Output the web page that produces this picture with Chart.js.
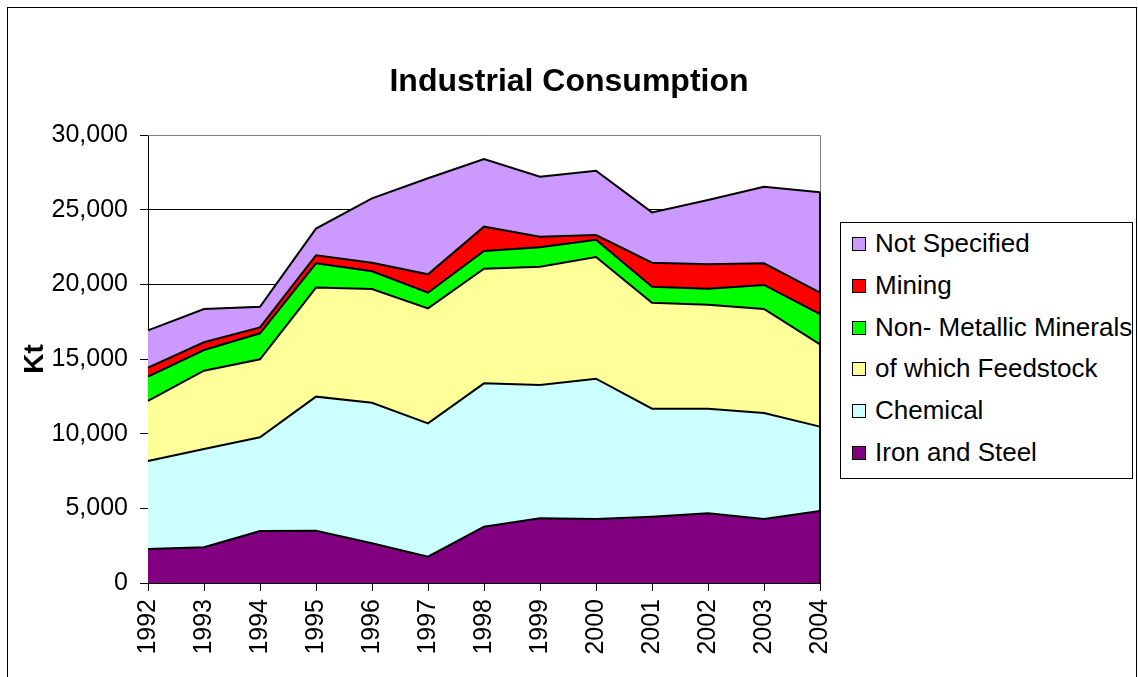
<!DOCTYPE html>
<html>
<head>
<meta charset="utf-8">
<title>Industrial Consumption</title>
<script src="https://cdn.jsdelivr.net/npm/chart.js@4/dist/chart.umd.min.js"></script>
<style>
    body { margin: 0; background: #fff; }
    #wrap { position: relative; width: 1138px; height: 677px; overflow: hidden; }
    #title {
        position: absolute; left: 0; top: 61px; width: 1138px; height: 38px; line-height: 38px;
        text-align: center; font-family: "Liberation Sans", Arial, sans-serif;
        font-size: 32px; font-weight: bold; color: #000;
    }
    #legend {
        position: absolute; left: 840px; top: 222px; width: 293px; height: 257px;
        box-sizing: border-box; border: 1px solid #000; background: #fff;
        font-family: "Liberation Sans", Arial, sans-serif; font-size: 26px; color: #000;
    }
    .item { height: 41.8px; line-height: 41.8px; white-space: nowrap; position: relative; padding-left: 34px; }
    .swatch {
        position: absolute; left: 11px; top: 14px; width: 14px; height: 14px;
        box-sizing: border-box; border: 1px solid #000;
    }
</style>
</head>
<body>
<div id="wrap">
    <canvas id="chart" width="1138" height="677"></canvas>
    <div id="title">Industrial Consumption</div>
    <div id="legend"></div>
</div>
<script>
// Data (Kt)
const years = ['1992', '1993', '1994', '1995', '1996', '1997', '1998', '1999', '2000', '2001', '2002', '2003', '2004'];
const ironSteel    = [2280, 2400, 3480, 3500, 2660, 1760, 3770, 4330, 4290, 4440, 4670, 4290, 4820];
const chemical     = [5890, 6570, 6280, 8980, 9410, 8930, 9600, 8930, 9390, 7230, 7000, 7090, 5650];
const feedstock    = [4020, 5250, 5220, 7300, 7620, 7700, 7680, 7920, 8150, 7100, 6970, 6970, 5510];
const nonMetallic  = [1630, 1380, 1740, 1630, 1180, 1050, 1180, 1300, 1160, 1070, 1070, 1610, 2030];
const mining       = [600, 520, 400, 540, 580, 1230, 1630, 710, 310, 1610, 1630, 1450, 1430];
const notSpecified = [2500, 2230, 1380, 1780, 4310, 6430, 4530, 4020, 4310, 3370, 4310, 5130, 6720];
const yTicks = [0, 5000, 10000, 15000, 20000, 25000, 30000];

Chart.defaults.font.family = '"Liberation Sans", Arial, sans-serif';
Chart.defaults.color = '#000';

const series = [
    { label: 'Iron and Steel', data: ironSteel, color: '#800080' },
    { label: 'Chemical', data: chemical, color: '#CCFFFF' },
    { label: 'of which Feedstock', data: feedstock, color: '#FFFF99' },
    { label: 'Non- Metallic Minerals', data: nonMetallic, color: '#00FF00' },
    { label: 'Mining', data: mining, color: '#FF0000' },
    { label: 'Not Specified', data: notSpecified, color: '#CC99FF' }
];

// frame round the chart, grey plot border and the right edge of the areas
const framePlugin = {
    id: 'frame',
    beforeDraw(chart) {
        const ctx = chart.ctx;
        ctx.save();
        ctx.strokeStyle = '#000';
        ctx.lineWidth = 1;
        ctx.strokeRect(7.5, 7.5, 1129, 720);
        ctx.restore();
    },
    afterDatasetsDraw(chart) {
        const { ctx, chartArea: a, scales } = chart;
        const last = years.length - 1;
        const total = series.reduce((s, d) => s + d.data[last], 0);
        ctx.save();
        ctx.strokeStyle = '#808080';
        ctx.lineWidth = 1;
        ctx.beginPath();
        ctx.moveTo(a.left, a.top + 0.5);
        ctx.lineTo(a.right + 0.5, a.top + 0.5);
        ctx.lineTo(a.right + 0.5, a.bottom);
        ctx.stroke();
        ctx.strokeStyle = '#000';
        ctx.lineWidth = 2;
        ctx.beginPath();
        ctx.moveTo(a.right, scales.y.getPixelForValue(total));
        ctx.lineTo(a.right, a.bottom);
        ctx.stroke();
        ctx.restore();
    }
};

const ctx = document.getElementById('chart').getContext('2d');
new Chart(ctx, {
    type: 'line',
    data: {
        labels: years,
        datasets: series.map((s, i) => ({
            label: s.label,
            data: s.data,
            backgroundColor: s.color,
            borderColor: '#000',
            borderWidth: 2,
            pointRadius: 0,
            tension: 0,
            fill: i === 0 ? 'origin' : '-1'
        }))
    },
    options: {
        responsive: false,
        animation: false,
        devicePixelRatio: 1,
        layout: { padding: { left: 0, right: 318, top: 135, bottom: 0 } },
        plugins: {
            legend: { display: false },
            tooltip: { enabled: false },
            title: { display: false }
        },
        scales: {
            x: {
                offset: false,
                grid: { display: true, drawOnChartArea: false, drawTicks: true, tickLength: 8, color: '#000' },
                border: { display: true, color: '#000', width: 1 },
                ticks: { minRotation: 90, maxRotation: 90, padding: 8, font: { size: 25 }, color: '#000' },
                afterFit: (scale) => { scale.height = 94; }
            },
            y: {
                stacked: true,
                min: 0,
                max: 30000,
                afterBuildTicks: (scale) => { scale.ticks = yTicks.map(v => ({ value: v })); },
                grid: { color: '#000', tickLength: 8, tickColor: '#000' },
                border: { display: true, color: '#000', width: 1 },
                ticks: {
                    padding: 12,
                    font: { size: 25 },
                    color: '#000',
                    callback: (v) => v.toLocaleString('en-US')
                },
                title: {
                    display: true,
                    text: 'Kt',
                    color: '#000',
                    font: { size: 28, weight: 'bold' },
                    padding: { top: 18, bottom: 0 }
                },
                afterFit: (scale) => { scale.width = 148; }
            }
        }
    },
    plugins: [framePlugin]
});

// legend, top entry is the top area
const legend = document.getElementById('legend');
series.slice().reverse().forEach(s => {
    const row = document.createElement('div');
    row.className = 'item';
    const sw = document.createElement('span');
    sw.className = 'swatch';
    sw.style.background = s.color;
    row.appendChild(sw);
    row.appendChild(document.createTextNode(s.label));
    legend.appendChild(row);
});
</script>
</body>
</html>
